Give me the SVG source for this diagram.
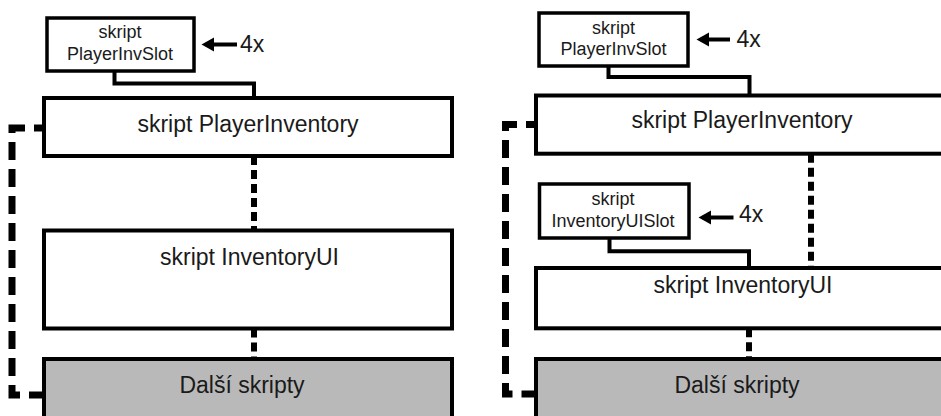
<svg xmlns="http://www.w3.org/2000/svg" width="941" height="416" viewBox="0 0 941 416">
<defs>
<style>
.box{fill:#ffffff;stroke:#000000;stroke-width:4}
.slot{fill:#ffffff;stroke:#000000;stroke-width:3.5}
.gray{fill:#b9b9b9;stroke:#000000;stroke-width:4}
.t{font-family:"Liberation Sans",Arial,sans-serif;fill:#1a1a1a;text-anchor:middle}
.main{font-size:23px}
.small{font-size:18px}
.cnt{font-family:"Liberation Sans",Arial,sans-serif;fill:#1a1a1a;font-size:23px}
.solid{fill:none;stroke:#000000;stroke-width:4}
.dash{fill:none;stroke:#000000;stroke-width:7;stroke-dasharray:18 9;stroke-dashoffset:8}
.dot{fill:none;stroke:#000000;stroke-width:6;stroke-dasharray:9 5}
.arr{fill:none;stroke:#000000;stroke-width:4}
.head{fill:#000000}
</style>
</defs>

<g id="connectors">
<!-- left panel -->
<path class="solid" d="M114.5,71 V83.5 H254 V98"/>
<path class="dot" d="M254,156 V230.5"/>
<path class="dot" d="M254,328.5 V359"/>
<path class="dash" d="M44,128 H12 V395 H44"/>
<path class="arr" d="M237,44.5 H212"/>
<path class="head" d="M201.5,44.5 L214,37.5 L214,51.5 Z"/>
<!-- right panel -->
<path class="solid" d="M608.5,66 V77 H749.5 V95.5"/>
<path class="solid" d="M609.5,238 V251.3 H749 V268"/>
<path class="dot" d="M811,153.7 V268"/>
<path class="dot" d="M749,328.3 V359"/>
<path class="dash" d="M536,124.5 H505.5 V394 H536"/>
<path class="arr" d="M730,39.5 H707"/>
<path class="head" d="M696.5,39.5 L709,32.5 L709,46.5 Z"/>
<path class="arr" d="M733.5,217.5 H709"/>
<path class="head" d="M698.5,217.5 L711,210.5 L711,224.5 Z"/>
</g>

<!-- left panel nodes -->
<g id="L_PlayerInvSlot">
<rect class="slot" x="47" y="18" width="147" height="53"/>
<text class="t small" x="120" y="38">skript</text>
<text class="t small" x="120" y="60">PlayerInvSlot</text>
</g>
<g id="L_count">
<text class="cnt" x="240" y="52">4x</text>
</g>
<g id="L_PlayerInventory">
<rect class="box" x="44" y="98" width="408" height="58"/>
<text class="t main" x="248" y="132">skript PlayerInventory</text>
</g>
<g id="L_InventoryUI">
<rect class="box" x="44" y="230.5" width="408" height="98"/>
<text class="t main" x="249.5" y="265">skript InventoryUI</text>
</g>
<g id="L_Dalsi">
<rect class="gray" x="44" y="359" width="408" height="70"/>
<text class="t main" x="242" y="393">Další skripty</text>
</g>

<!-- right panel nodes -->
<g id="R_PlayerInvSlot">
<rect class="slot" x="539" y="13" width="149" height="53"/>
<text class="t small" x="613.5" y="33.5">skript</text>
<text class="t small" x="613.5" y="55">PlayerInvSlot</text>
</g>
<g id="R_count1">
<text class="cnt" x="736.5" y="47">4x</text>
</g>
<g id="R_PlayerInventory">
<rect class="box" x="536" y="95.5" width="420" height="58.2"/>
<text class="t main" x="742" y="128">skript PlayerInventory</text>
</g>
<g id="R_InventoryUISlot">
<rect class="slot" x="539.5" y="184" width="149.5" height="54"/>
<text class="t small" x="613" y="204.5">skript</text>
<text class="t small" x="613" y="226.5">InventoryUISlot</text>
</g>
<g id="R_count2">
<text class="cnt" x="739" y="222">4x</text>
</g>
<g id="R_InventoryUI">
<rect class="box" x="536" y="268" width="420" height="60.3"/>
<text class="t main" x="743" y="293">skript InventoryUI</text>
</g>
<g id="R_Dalsi">
<rect class="gray" x="536" y="359" width="420" height="70"/>
<text class="t main" x="737" y="393">Další skripty</text>
</g>
</svg>
